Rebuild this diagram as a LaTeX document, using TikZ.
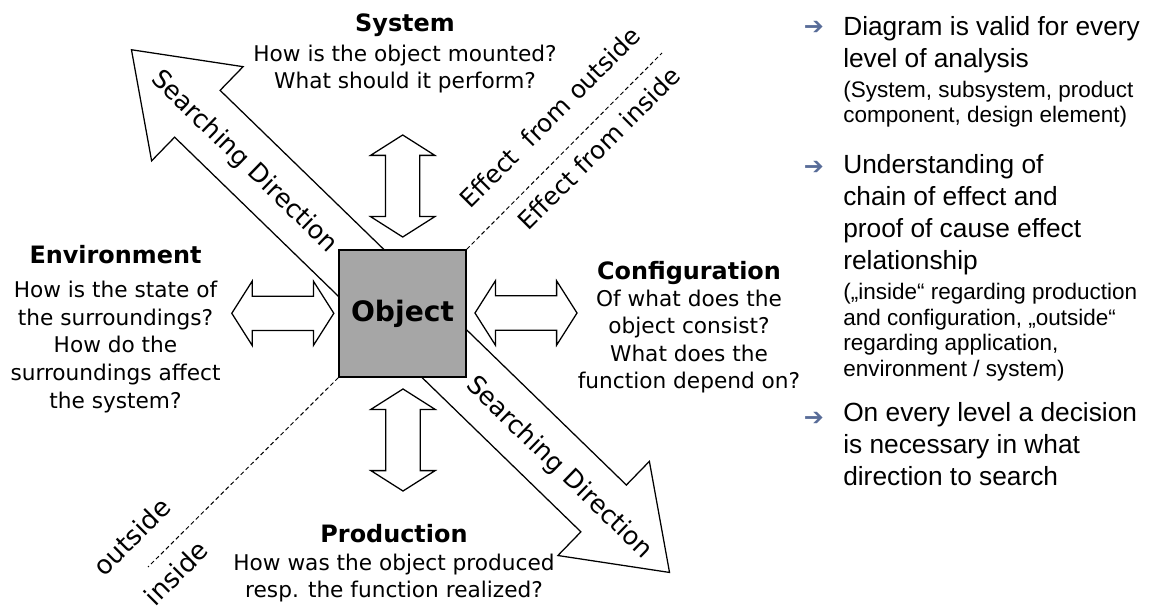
\documentclass[tikz,border=0pt]{standalone}
\usepackage{fontspec}
\usetikzlibrary{shapes.arrows}

\newfontfamily\diagfont{DejaVu Sans}
\newfontfamily\notefont{Liberation Sans}
\definecolor{objgray}{RGB}{166,166,166}
\definecolor{bulletblue}{RGB}{88,108,152}
\newcommand{\headfont}{\diagfont\bfseries\fontsize{17}{20}\selectfont}
\newcommand{\smallnote}{\fontsize{16}{18}\selectfont}

\begin{document}
\begin{tikzpicture}[
        x=0.025cm, y=-0.025cm,
        bigarrow/.style={
                double arrow,
                draw=black,
                line width=0.9pt,
                inner xsep=0pt,
                inner ysep=0.8cm,
                minimum height=18.75cm,
                double arrow head extend=0.825cm,
                double arrow tip angle=71.1,
                rotate=-44.17
            },
        link/.style={
                double arrow,
                draw=black,
                line width=0.9pt,
                inner xsep=0pt,
                inner ysep=0.4125cm,
                minimum height=2.55cm,
                double arrow head extend=0.375cm,
                double arrow tip angle=115.2
            },
        objbox/.style={
                rectangle,
                draw=black,
                line width=0.9pt,
                fill=objgray,
                minimum size=3.175cm,
                font=\diagfont\bfseries\fontsize{20}{24}\selectfont
            },
        block/.style={
                align=center,
                anchor=north,
                inner sep=0pt,
                font=\diagfont\fontsize{15.4}{19.56}\selectfont
            },
        tilted/.style={
                inner sep=0pt,
                font=\diagfont\fontsize{17.6}{20}\selectfont
            },
        divide/.style={
                line width=0.7pt,
                dash pattern=on 3pt off 2pt
            },
        bullet/.style={
                text=bulletblue,
                inner sep=0pt,
                font=\diagfont\bfseries\fontsize{17}{17}\selectfont
            },
        note/.style={
                align=left,
                anchor=north west,
                inner sep=0pt,
                font=\notefont\fontsize{18.7}{22.76}\selectfont
            }
    ]
    \useasboundingbox (0,0) rectangle (1152,610);

    % searching direction and the object
    \node[bigarrow] (search) at (400.5,311.1) {};
    \node[objbox] (obj) at (402.5,313.5) {Object};

    \node[link,rotate=90] (toSys) at (402.7,186) {};
    \node[link,rotate=90] (toProd) at (403,440) {};
    \node[link] (toEnv) at (282.8,313.3) {};
    \node[link] (toConf) at (526,313) {};

    % inside / outside border
    \coordinate (outEnd) at (662,53);
    \coordinate (inEnd) at (148,567);
    \draw[divide] (obj.north east) -- (outEnd);
    \draw[divide] (obj.south west) -- (inEnd);

    \node[block] (system) at (405,13) {{\headfont System}\\[1.8pt]How is the object mounted?\\What should it perform?};
    \node[block] (env) at (115.5,245) {{\headfont Environment}\\[5pt]How is the state of\\the surroundings?\\How do the\\surroundings affect\\the system?};
    \node[block] (conf) at (689,261.5) {{\headfont Configuration}\\[-0.8pt]Of what does the\\object consist?\\What does the\\function depend on?};
    \node[block] (prod) at (394,524.3) {{\headfont Production}\\How was the object produced\\resp. the function realized?};

    \node[tilted,rotate=-44.17,font=\diagfont\fontsize{18}{20}\selectfont] (searchUp) at (244,162) {Searching Direction};
    \node[tilted,rotate=-44.17,font=\diagfont\fontsize{18}{20}\selectfont] (searchDown) at (559,468) {Searching Direction};
    \node[tilted,rotate=45] (effOut) at (550,117) {Effect\ \ from outside};
    \node[tilted,rotate=45] (effIn) at (599,148) {Effect from inside};
    \node[tilted,rotate=45,font=\diagfont\fontsize{18.5}{20}\selectfont] (outside) at (131.7,536.7) {outside};
    \node[tilted,rotate=45,font=\diagfont\fontsize{18.5}{20}\selectfont] (inside) at (176,573) {inside};

    % notes on the right
    \node[bullet] (b1) at (814,28) {➔};
    \node[note] (n1) at (843,16) {Diagram is valid for every\\level of analysis\\[-1.4pt]{\smallnote (System, subsystem, product}\\[-4.6pt]{\smallnote component, design element)}};
    \node[bullet] (b2) at (814,167.7) {➔};
    \node[note] (n2) at (843,154.2) {Understanding of\\chain of effect and\\proof of cause effect\\relationship\\[-1.4pt]{\smallnote („inside“ regarding production}\\[-4.6pt]{\smallnote and configuration, „outside“}\\[-4.6pt]{\smallnote regarding application,}\\[-4.6pt]{\smallnote environment / system)}};
    \node[bullet] (b3) at (814,419.3) {➔};
    \node[note] (n3) at (843,402.2) {On every level a decision\\is necessary in what\\direction to search};
\end{tikzpicture}
\end{document}
